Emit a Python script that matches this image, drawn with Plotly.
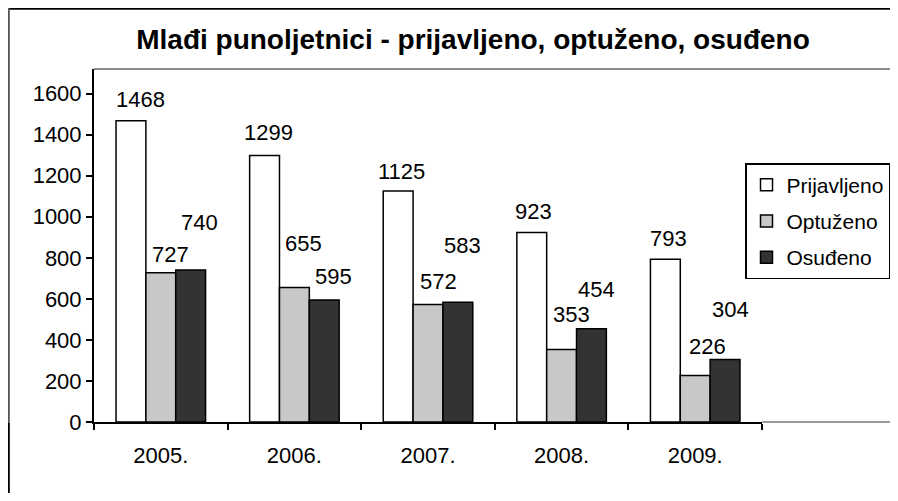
import plotly.graph_objects as go

# ---- data ----
years = ["2005.", "2006.", "2007.", "2008.", "2009."]
prijavljeno = [1468, 1299, 1125, 923, 793]
optuzeno = [727, 655, 572, 353, 226]
osudeno = [740, 595, 583, 454, 304]
series_names = ["Prijavljeno", "Optuženo", "Osuđeno"]
y_ticks = [0, 200, 400, 600, 800, 1000, 1200, 1400, 1600]
title_text = "Mlađi punoljetnici - prijavljeno, optuženo, osuđeno"

# ---- style ----
series_colors = ["#ffffff", "#c8c8c8", "#333333"]
# hand-placed data label offsets in px: horizontal shift, height of label centre above bar top
label_dx = [[10, 4, 3, 2, 3], [10, 9, 10, 10, 12], [9, 9, 5, 5, 5]]
label_dy = [[21, 23, 20, 21, 21], [18, 44, 23, 35, 29], [48, 23, 57, 39, 50]]

# the page places the figure 8px in from the window edges (body margin)
OFF = 8
WIN_W, WIN_H = 898, 501
W, H = WIN_W - OFF, WIN_H - 2 * OFF
# target layout in window pixels
PLOT_L, PLOT_R, PLOT_T, PLOT_B = 94, 762, 69, 422
ML, MR, MT, MB = PLOT_L - OFF, WIN_W - PLOT_R, PLOT_T - OFF, (H + OFF) - PLOT_B
plot_w = W - ML - MR
plot_h = H - MT - MB
BARGAP = 0.33
FONT = "Liberation Sans, Arial, sans-serif"
FS = 22

series_values = [prijavljeno, optuzeno, osudeno]

fig = go.Figure()
for name, vals, col in zip(series_names, series_values, series_colors):
    fig.add_trace(go.Bar(
        x=years, y=vals, name=name, legendgroup=name,
        marker=dict(color=col, line=dict(color="#000000", width=1.5)),
        hoverinfo="x+y+name",
    ))

cat_px = plot_w / len(years)
bar_px = cat_px * (1 - BARGAP) / len(series_names)
annotations = []
for si, vals in enumerate(series_values):
    off = (si - (len(series_names) - 1) / 2) * bar_px
    for ci, v in enumerate(vals):
        annotations.append(dict(
            x=ci, y=v, xref="x", yref="y", text=str(v), showarrow=False,
            xanchor="center", yanchor="middle",
            xshift=off + label_dx[si][ci], yshift=label_dy[si][ci],
            font=dict(family=FONT, size=FS, color="#000000"),
        ))

# helpers: window pixel -> paper coords
def px_x(p):
    return (p - PLOT_L) / plot_w

def px_y(p):
    return (PLOT_B - p) / plot_h

shapes = [
    # plot area top border (grey) extending to the right edge
    dict(type="line", xref="paper", yref="paper", x0=0, x1=px_x(WIN_W + 2), y0=1, y1=1,
         line=dict(color="#8c8c8c", width=2)),
    # grey continuation of the baseline beyond the category axis
    dict(type="line", xref="paper", yref="paper", x0=1, x1=px_x(WIN_W + 2), y0=0, y1=0,
         line=dict(color="#9a9a9a", width=2)),
    # outer chart frame: top and left
    dict(type="line", xref="paper", yref="paper", x0=px_x(OFF), x1=px_x(WIN_W + 2),
         y0=px_y(OFF + 0.8), y1=px_y(OFF + 0.8), line=dict(color="#000000", width=2)),
    dict(type="line", xref="paper", yref="paper", x0=px_x(OFF + 0.8), x1=px_x(OFF + 0.8),
         y0=px_y(OFF), y1=px_y(423), line=dict(color="#555555", width=2)),
    dict(type="line", xref="paper", yref="paper", x0=px_x(OFF + 0.8), x1=px_x(OFF + 0.8),
         y0=px_y(423), y1=px_y(WIN_H + 2), line=dict(color="#000000", width=2)),
]

fig.update_layout(
    width=W, height=H, autosize=False,
    margin=dict(l=ML, r=MR, t=MT, b=MB, pad=0, autoexpand=False),
    paper_bgcolor="#ffffff", plot_bgcolor="#ffffff",
    font=dict(family=FONT, size=FS, color="#000000"),
    title=dict(text="<b>" + title_text + "</b>", x=(473 - OFF) / W, xref="container", xanchor="center",
               y=1 - (39 - OFF) / H, yref="container", yanchor="middle",
               font=dict(family=FONT, size=28, color="#000000")),
    barmode="group", bargap=BARGAP, bargroupgap=0,
    showlegend=True,
    legend=dict(x=px_x(745), y=px_y(163), xref="paper", yref="paper",
                xanchor="left", yanchor="top",
                bgcolor="#ffffff", bordercolor="#000000", borderwidth=1.5,
                font=dict(family=FONT, size=21, color="#000000"),
                tracegroupgap=6, traceorder="grouped", itemwidth=30),
    annotations=annotations,
    shapes=shapes,
)
fig.update_xaxes(
    type="category", categoryorder="array", categoryarray=years,
    range=[-0.5, len(years) - 0.5], autorange=False,
    showline=True, linecolor="#000000", linewidth=2,
    ticks="outside", tickson="boundaries", ticklen=6, tickwidth=2, tickcolor="#000000",
    showgrid=False, zeroline=False, ticklabelstandoff=13, tickangle=0,
    tickfont=dict(family=FONT, size=FS, color="#000000"),
)
fig.update_yaxes(
    range=[0, 1600 * plot_h / 328.4], autorange=False,
    tickvals=y_ticks, ticktext=[str(t) for t in y_ticks],
    showline=True, linecolor="#000000", linewidth=2,
    ticks="outside", ticklen=6, tickwidth=2, tickcolor="#000000",
    showgrid=False, zeroline=False,
    tickfont=dict(family=FONT, size=FS, color="#000000"),
)

fig.write_html("out.html")
